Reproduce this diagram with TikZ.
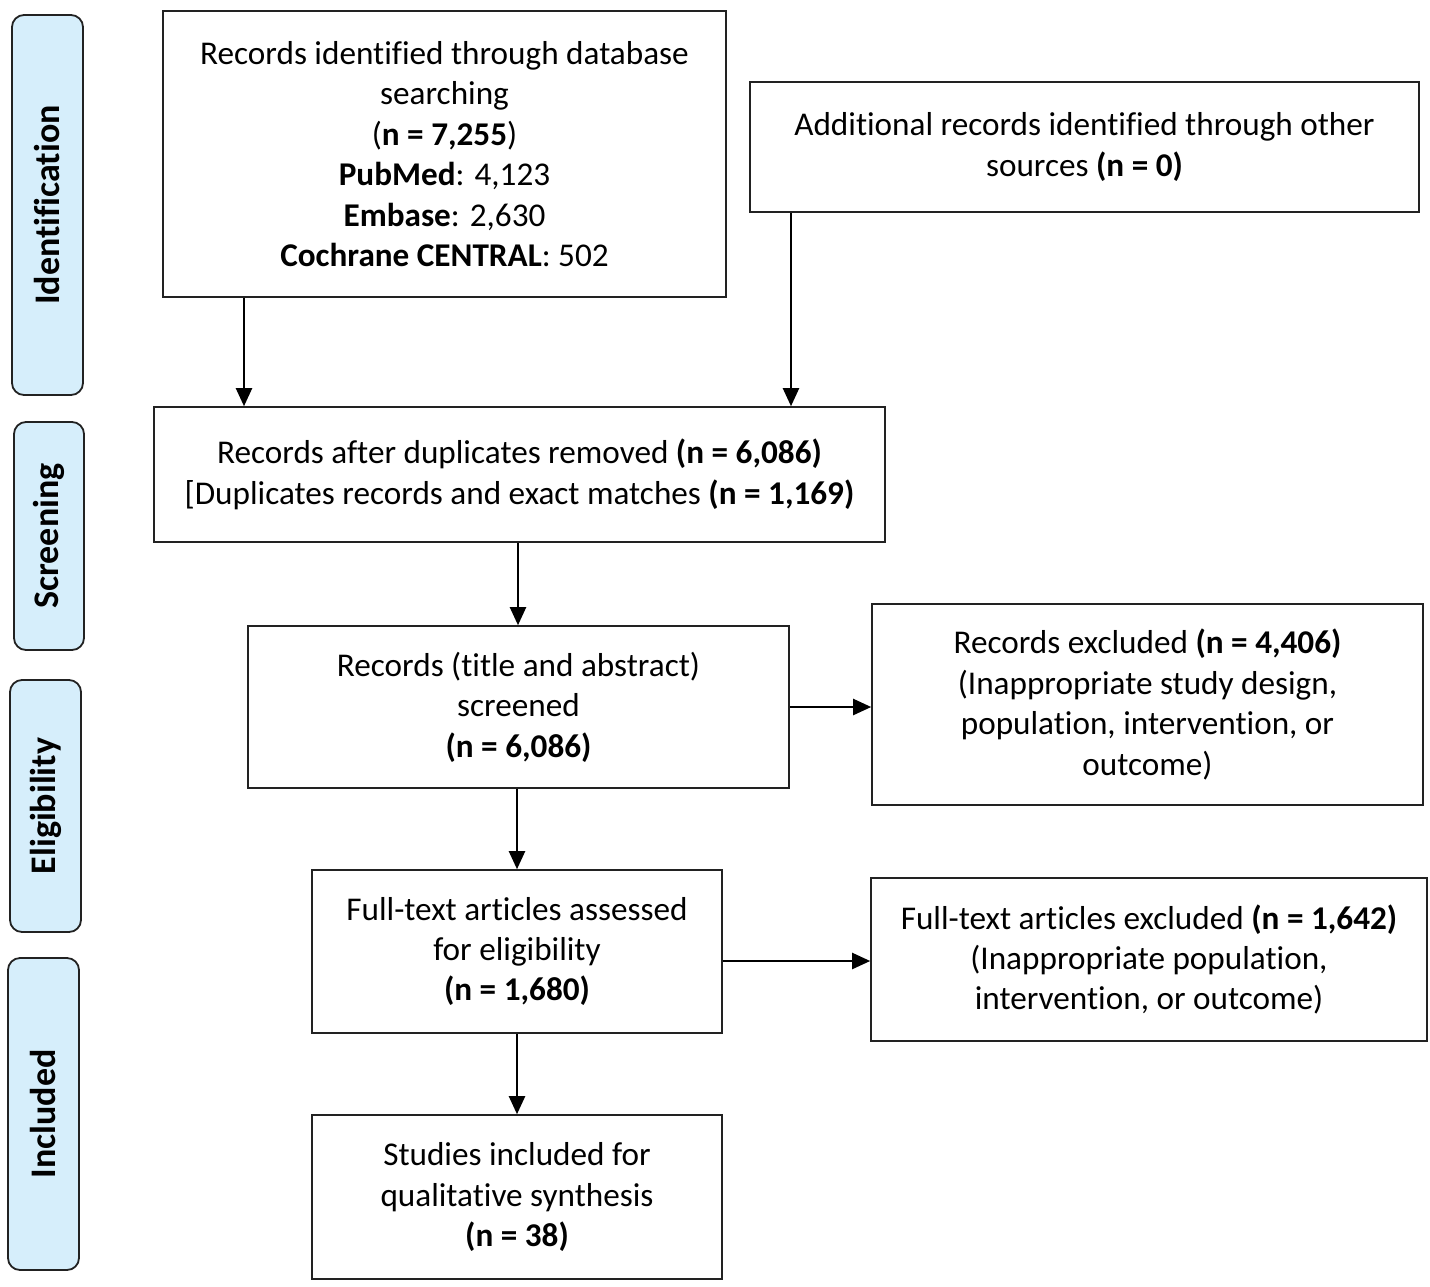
\documentclass[tikz,border=0pt]{standalone}
\usepackage{fontspec}
\setmainfont[Ligatures=CommonOff]{Carlito}
\usetikzlibrary{arrows.meta,calc}
\definecolor{sidefill}{HTML}{D6EEFB}
\definecolor{edge}{HTML}{222222}
\begin{document}
\begin{tikzpicture}[x=0.5pt,y=-0.5pt,
  box/.style={draw=edge, line width=0.8pt, fill=white, align=center, inner sep=0pt,
    font=\fontsize{16.6}{20.2}\selectfont},
  side/.style={draw=edge, line width=0.9pt, fill=sidefill, rounded corners=6pt, inner sep=0pt},
  sidetext/.style={rotate=90, font=\fontsize{18}{20}\selectfont\bfseries},
  arr/.style={draw=black, line width=1.1pt, -{Triangle[length=9pt,width=8pt]}}]
\useasboundingbox (0,0) rectangle (1430,1286);
% side labels
\node[side, minimum width=35.5pt, minimum height=190pt] (sid) at (47.5,205) {};
\node[sidetext] (sidt) at (sid.center) {Identification};
\node[side, minimum width=35pt, minimum height=114pt] (ssc) at (49,536) {};
\node[sidetext] (ssct) at (ssc.center) {Screening};
\node[side, minimum width=35.5pt, minimum height=126pt] (sel) at (45.5,806) {};
\node[sidetext] (selt) at (sel.center) {Eligibility};
\node[side, minimum width=35.5pt, minimum height=156pt] (sin) at (43.5,1114) {};
\node[sidetext] (sint) at (sin.center) {Included};
% boxes
\node[box, minimum width=281.5pt, minimum height=143pt] (b1) at (444.5,154)
 {Records identified through database\\searching\\(\textbf{n = 7,255})\\\textbf{PubMed}: 4,123\\\textbf{Embase}: 2,630\\\textbf{Cochrane CENTRAL}: 502};
\node[box, minimum width=334.5pt, minimum height=65pt] (b2) at (1084.5,147)
 {Additional records identified through other\\sources \textbf{(n = 0)}};
\node[box, minimum width=365.5pt, minimum height=67.5pt] (b3) at (519.5,474.5)
 {Records after duplicates removed \textbf{(n = 6,086)}\\{[}Duplicates records and exact matches \textbf{(n = 1,169)}};
\node[box, minimum width=270.5pt, minimum height=81pt] (b4) at (518.5,707)
 {Records (title and abstract)\\screened\\\textbf{(n = 6,086)}};
\node[box, minimum width=275.5pt, minimum height=100.5pt] (b5) at (1147.5,704.5)
 {Records excluded \textbf{(n = 4,406)}\\(Inappropriate study design,\\population, intervention, or\\outcome)};
\node[box, minimum width=205pt, minimum height=81.5pt] (b6) at (517,951.5)
 {Full-text articles assessed\\for eligibility\\\textbf{(n = 1,680)}};
\node[box, minimum width=278pt, minimum height=81.5pt] (b7) at (1149,959.5)
 {Full-text articles excluded \textbf{(n = 1,642)}\\(Inappropriate population,\\intervention, or outcome)};
\node[box, minimum width=205pt, minimum height=82pt] (b8) at (517,1197)
 {Studies included for\\qualitative synthesis\\\textbf{(n = 38)}};
% arrows
\coordinate (x1) at (244,0);
\coordinate (x2) at (791,0);
\coordinate (x3) at (518,0);
\coordinate (x4) at (517,0);
\coordinate (y4) at (0,707);
\coordinate (y6) at (0,961);
\draw[arr] (b1.south -| x1) -- (b3.north -| x1);
\draw[arr] (b2.south -| x2) -- (b3.north -| x2);
\draw[arr] (b3.south -| x3) -- (b4.north -| x3);
\draw[arr] (b4.east |- y4) -- (b5.west |- y4);
\draw[arr] (b4.south -| x4) -- (b6.north -| x4);
\draw[arr] (b6.east |- y6) -- (b7.west |- y6);
\draw[arr] (b6.south -| x4) -- (b8.north -| x4);
\end{tikzpicture}
\end{document}
